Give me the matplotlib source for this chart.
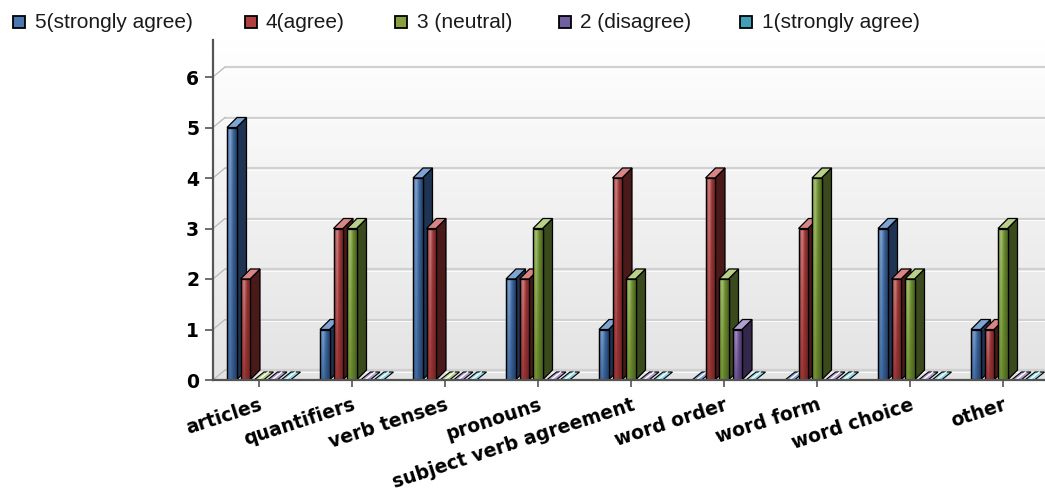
import numpy as np
import matplotlib
matplotlib.use('Agg')
import matplotlib.pyplot as plt
from matplotlib.patches import Polygon, Rectangle
from matplotlib.transforms import ScaledTranslation
import matplotlib.colors as mcolors

# ---------------- data ----------------
categories = ["articles", "quantifiers", "verb tenses", "pronouns",
              "subject verb agreement", "word order", "word form",
              "word choice", "other"]
series_names = ["5(strongly agree)", "4(agree)", "3 (neutral)",
                "2 (disagree)", "1(strongly agree)"]
s5 = [5, 1, 4, 2, 1, 0, 0, 3, 1]
s4 = [2, 3, 3, 2, 4, 4, 3, 2, 1]
s3 = [0, 3, 0, 3, 2, 2, 4, 2, 3]
s2 = [0, 0, 0, 0, 0, 1, 0, 0, 0]
s1 = [0, 0, 0, 0, 0, 0, 0, 0, 0]
y_ticks = [0, 1, 2, 3, 4, 5, 6]

series = [s5, s4, s3, s2, s1]

# ---------------- styles ----------------
# (dark, base, light, side, top, legend)
palette = [
    ("#233f66", "#3f6aa0", "#86a6cf", "#1f3352", "#7fa3d3", "#4a78b0"),
    ("#6e2222", "#983434", "#cf8585", "#4a1a1a", "#d98585", "#b04040"),
    ("#4a6220", "#6e8e30", "#a9c27a", "#3a4a1c", "#b8d088", "#88a040"),
    ("#3f2d5e", "#6a5090", "#a895c6", "#33284a", "#b0a0d0", "#7060a0"),
    ("#22667a", "#3f9fb8", "#8fd3e3", "#1f5060", "#90d8e8", "#40a0b8"),
]

W, H = 1045, 495
DPI = 100
ax_l, ax_r, ax_b, ax_t = 213, 1045, 380, 40
cat_px = 93.0
unit_px = 50.5
first_tick_px = 259

fig = plt.figure(figsize=(W / DPI, H / DPI), dpi=DPI)
ax = fig.add_axes([ax_l / W, (H - ax_b) / H, (ax_r - ax_l) / W, (ax_b - ax_t) / H])
xlim = (-(first_tick_px - ax_l) / cat_px, (ax_r - first_tick_px) / cat_px)
ylim = (0, (ax_b - ax_t) / unit_px)

# background gradient (white at top -> light grey at bottom)
bg = np.linspace(0.0, 1.0, 256)[:, None]
top_c = np.array(mcolors.to_rgb("#ffffff"))
bot_c = np.array(mcolors.to_rgb("#e3e3e3"))
bg_img = top_c[None, None, :] * (1 - bg[..., None]) + bot_c[None, None, :] * bg[..., None]
bg_img = np.repeat(bg_img, 2, axis=1)
ax.imshow(bg_img, extent=[0, 1, 0, 1], transform=ax.transAxes, aspect='auto',
          zorder=0, interpolation='bilinear')

# back wall offsets
wall_dx, wall_dy = 12 / DPI, 10 / DPI
wall_tr = ax.transData + ScaledTranslation(wall_dx, wall_dy, fig.dpi_scale_trans)
for v in y_ticks:
    ax.plot([xlim[0], xlim[1] + 1], [v, v], transform=wall_tr, color="#d0d0d0",
            lw=1.6, zorder=1, solid_capstyle='butt')
    ax.plot([xlim[0], xlim[1] + 1], [v, v],
            transform=wall_tr + ScaledTranslation(0, -1.5 / DPI, fig.dpi_scale_trans),
            color="#ffffff", lw=0.8, zorder=1, solid_capstyle='butt', alpha=0.8)
    # connector from axis to wall
    ax.plot([xlim[0], xlim[0] + wall_dx * DPI / cat_px], [v, v + wall_dy * DPI / unit_px],
            color="#b8b8b8", lw=0.9, zorder=1, clip_on=False)

# bars
bar_w = 9.5 / cat_px
pitch = 13.5 / cat_px
off0 = -32 / cat_px
ddx = 10 / cat_px
ddy = 10 / unit_px
ddy0 = 8 / unit_px

def mix(a, b, t):
    a = np.array(mcolors.to_rgb(a)); b = np.array(mcolors.to_rgb(b))
    return a * (1 - t) + b * t

nx = 24
xs = np.linspace(0, 1, nx)
hprof = np.interp(xs, [0, 0.08, 0.3, 0.65, 1.0], [0.35, 0.6, 1.0, 0.45, 0.0])

for k, vals in enumerate(series):
    dark, base, light, side, topc, _ = palette[k]
    z = 3 + k
    for i, h in enumerate(vals):
        x0 = i + off0 + k * pitch
        x1 = x0 + bar_w
        if h > 0:
            ax.add_patch(Polygon([(x1, 0), (x1 + ddx, ddy), (x1 + ddx, h + ddy), (x1, h)],
                                 closed=True, fc=side, ec="black", lw=0.9, zorder=z))
            ax.add_patch(Polygon([(x0, h), (x0 + ddx, h + ddy), (x1 + ddx, h + ddy), (x1, h)],
                                 closed=True, fc=topc, ec="black", lw=0.9, zorder=z))
            bars = ax.bar(x0, h, width=bar_w, align='edge', color=base,
                          edgecolor="black", lw=0.9, zorder=z)
            rect = bars.patches[0]
            ny = 32
            ys = np.linspace(1, 0, ny)
            img = np.zeros((ny, nx, 3))
            for yy in range(ny):
                vfac = 0.55 + 0.45 * ys[yy]
                for xx in range(nx):
                    t = hprof[xx] * vfac
                    if t < 0.5:
                        img[yy, xx] = mix(dark, base, t / 0.5)
                    else:
                        img[yy, xx] = mix(base, light, (t - 0.5) / 0.5)
            im = ax.imshow(img, extent=[x0, x1, 0, h], aspect='auto', zorder=z,
                           interpolation='bilinear')
            im.set_clip_path(rect)
            ax.add_patch(Rectangle((x0, 0), bar_w, h, fc='none', ec='black', lw=0.9, zorder=z))
        else:
            ax.add_patch(Polygon([(x0, 0), (x0 + ddx, ddy0), (x1 + ddx, ddy0), (x1, 0)],
                                 closed=True, fc=topc, ec="black", lw=0.8, zorder=z))
            ax.plot([x0 + 0.45 * bar_w, x0 + 0.45 * bar_w + ddx], [0, ddy0],
                    color="white", lw=1.0, zorder=z)

ax.set_xlim(*xlim)
ax.set_ylim(*ylim)

for s in ['top', 'right']:
    ax.spines[s].set_visible(False)
for s in ['left', 'bottom']:
    ax.spines[s].set_color("#555555")
    ax.spines[s].set_linewidth(1.6)
    ax.spines[s].set_zorder(10)

ax.set_yticks(y_ticks)
ax.set_yticklabels([str(v) for v in y_ticks], fontsize=13.5, fontweight='bold',
                   family='DejaVu Sans')
ax.set_xticks(range(len(categories)))
ax.set_xticklabels(categories, rotation=18, ha='right', va='top',
                   rotation_mode='anchor', fontsize=13.5, fontweight='bold',
                   family='DejaVu Sans')
ax.tick_params(axis='y', length=6, width=1.2, color="#555555", pad=4)
ax.tick_params(axis='x', length=5, width=1.2, color="#555555", pad=6)

# legend
leg_sq_px = [13, 245, 395, 559, 740]
leg_tx_px = [35, 266, 417, 580, 762]
leg_y_px = 22
for k, name in enumerate(series_names):
    fig.patches.append(Rectangle((leg_sq_px[k] / W, (H - leg_y_px - 6) / H), 12 / W, 12 / H,
                                 transform=fig.transFigure, fc=palette[k][5],
                                 ec="black", lw=1.3))
    fig.text(leg_tx_px[k] / W, (H - leg_y_px) / H, name, fontsize=15,
             family='Liberation Sans', va='center', ha='left', color="#1a1a1a")

fig.savefig("out.png", dpi=DPI)
